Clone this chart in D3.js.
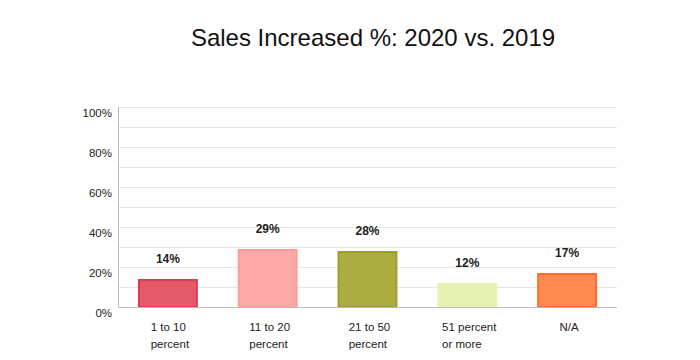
<!DOCTYPE html>
<html><head><meta charset="utf-8">
<script src="https://cdn.jsdelivr.net/npm/d3@7"></script>
<style>body{margin:0;background:#fff;} svg{display:block;font-family:"Liberation Sans",Arial,sans-serif;}</style>
</head><body>
<svg id="chart" width="700" height="360"></svg>
<script>
const categories = [["1 to 10","percent"],["11 to 20","percent"],["21 to 50","percent"],["51 percent","or more"],["N/A"]];
const values = [14, 29, 28, 12, 17];
const valueLabels = ["14%","29%","28%","12%","17%"];
const fills = ["#e35b6a","#ffaaa8","#acad40","#e6f2b2","#ff8a50"];
const strokes = ["#e23a4c","#ff9c9a","#9c9d2c","#e6f2b2","#ff6b2f"];
const yTicks = [0,20,40,60,80,100];
const yGrid = [10,20,30,40,50,60,70,80,90,100];

const svg = d3.select("#chart");
const m = {left:118, right:617, top:107, bottom:307};
const x = d3.scaleBand().domain(d3.range(values.length)).range([m.left, m.right]).paddingInner(0.4).paddingOuter(0.2);
const y = d3.scaleLinear().domain([0,100]).range([m.bottom, m.top]);

svg.append("text").attr("x",373).attr("y",46).attr("text-anchor","middle")
  .attr("font-size",24).attr("fill","#111").text("Sales Increased %: 2020 vs. 2019");

svg.append("g").selectAll("line").data(yGrid).join("line")
  .attr("x1",m.left).attr("x2",m.right).attr("y1",d=>y(d)+0.5).attr("y2",d=>y(d)+0.5)
  .attr("stroke","#e6e6e6").attr("stroke-width",1);

svg.append("g").selectAll("text").data(yTicks).join("text")
  .attr("x",m.left-6).attr("y",d=>y(d)+10).attr("text-anchor","end")
  .attr("font-size",11.5).attr("fill","#222").text(d=>d+"%");

svg.append("line").attr("x1",m.left+0.5).attr("x2",m.left+0.5).attr("y1",m.top).attr("y2",m.bottom)
  .attr("stroke","#bbb");

svg.append("g").selectAll("rect").data(values).join("rect")
  .attr("x",(d,i)=>x(i)+1).attr("y",d=>y(d)+1)
  .attr("width",x.bandwidth()-2).attr("height",d=>y(0)-y(d)-1)
  .attr("fill",(d,i)=>fills[i]).attr("stroke",(d,i)=>strokes[i]).attr("stroke-width",2);

svg.append("line").attr("x1",m.left).attr("x2",m.right).attr("y1",m.bottom+0.5).attr("y2",m.bottom+0.5)
  .attr("stroke","#bbb");

svg.append("g").selectAll("text").data(values).join("text")
  .attr("x",(d,i)=>x(i)+x.bandwidth()/2).attr("y",d=>y(d)-16)
  .attr("text-anchor","middle").attr("font-size",12).attr("font-weight","bold").attr("fill","#222")
  .text((d,i)=>valueLabels[i]);

const xl = svg.append("g");
categories.forEach((lines,i)=>{
  const t = xl.append("text").attr("font-size",11.5).attr("fill","#222");
  lines.forEach((s,j)=>{
    t.append("tspan").attr("y",m.bottom+24+j*16.5).text(s);
  });
  let w = 0;
  t.selectAll("tspan").each(function(){ w = Math.max(w, this.getComputedTextLength()); });
  const cx = x(i)+x.bandwidth()/2 + 2;
  t.selectAll("tspan").attr("x", cx - w/2);
});
</script>
</body></html>
